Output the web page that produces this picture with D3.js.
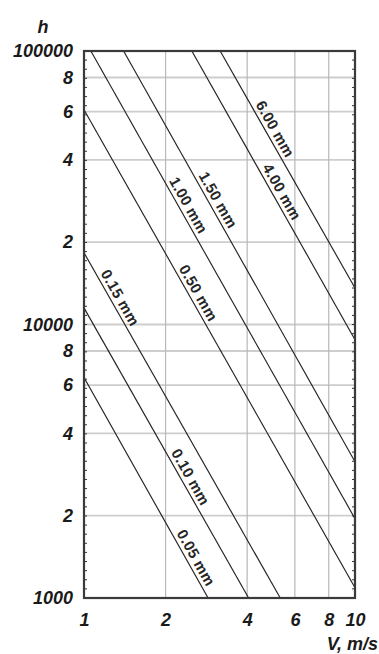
<!DOCTYPE html>
<html><head><meta charset="utf-8">
<script src="https://cdn.jsdelivr.net/npm/d3@7"></script>
<style>
body{margin:0;background:#fff;}
svg{display:block;}
text{font-family:"Liberation Sans",Arial,sans-serif;}
</style>
</head><body><svg id="c" width="379" height="654"></svg>
<script>
// ---- data ----
const seriesNames = ["0.05 mm","0.10 mm","0.15 mm","0.50 mm","1.00 mm","1.50 mm","4.00 mm","6.00 mm"];
const startV = [1, 1, 1, 1, 1.06, 1.40, 2.50, 3.18];
const startH = [6400, 11500, 18300, 61000, 100000, 100000, 100000, 100000];
const endV   = [2.87, 4.05, 5.30, 10, 10, 10, 10, 10];
const endH   = [1000, 1000, 1000, 1090, 1950, 3150, 8800, 13600];
const labelV = [2.42, 2.31, 1.27, 2.47, 2.27, 2.92, 5.02, 4.74];
const xTicks = [1, 2, 4, 6, 8, 10];
const xTickLabels = ["1","2","4","6","8","10"];
const yTicks = [1000, 2000, 4000, 6000, 8000, 10000, 20000, 40000, 60000, 80000, 100000];
const yTickLabels = ["1000","2","4","6","8","10000","2","4","6","8","100000"];
const xGrid = [2, 4, 6, 8];
const yGrid = [2000, 4000, 6000, 8000, 10000, 20000, 40000, 60000, 80000];
const xTitle = "V, m/s";
const yTitle = "h";

// ---- layout ----
const L = 84, R = 355, T = 51, B = 598;
const svg = d3.select("#c");
const x = d3.scaleLog().domain([1, 10]).range([L, R]);
const y = d3.scaleLog().domain([1000, 100000]).range([B, T]);

// grid
svg.append("g").selectAll("line").data(yGrid).join("line")
  .attr("x1", L).attr("x2", R).attr("y1", d => y(d)).attr("y2", d => y(d))
  .attr("stroke", "#cdcdcd").attr("stroke-width", 1.8);
svg.append("g").selectAll("line").data(xGrid).join("line")
  .attr("y1", T).attr("y2", B).attr("x1", d => x(d)).attr("x2", d => x(d))
  .attr("stroke", "#b8b8b8").attr("stroke-width", 1.2);

// series lines
const series = seriesNames.map((n, i) => ({
  name: n, pts: [[startV[i], startH[i]], [endV[i], endH[i]]], lab: labelV[i]
}));
const line = d3.line().x(d => x(d[0])).y(d => y(d[1]));
svg.append("g").selectAll("path").data(series).join("path")
  .attr("d", d => line(d.pts))
  .attr("fill", "none").attr("stroke", "#222").attr("stroke-width", 1.15);

// series labels
svg.append("g").selectAll("text").data(series).join("text")
  .attr("transform", d => {
    const [p0, p1] = d.pts;
    const x0 = x(p0[0]), y0 = y(p0[1]), x1 = x(p1[0]), y1 = y(p1[1]);
    const ang = Math.atan2(y1 - y0, x1 - x0) * 180 / Math.PI;
    const t = (Math.log(d.lab) - Math.log(p0[0])) / (Math.log(p1[0]) - Math.log(p0[0]));
    const lh = Math.exp(Math.log(p0[1]) + t * (Math.log(p1[1]) - Math.log(p0[1])));
    return `translate(${x(d.lab)},${y(lh)}) rotate(${ang})`;
  })
  .attr("dy", -4)
  .attr("text-anchor", "middle")
  .attr("font-size", 15).attr("font-weight", "bold").attr("letter-spacing", 0.3)
  .attr("fill", "#262626")
  .text(d => d.name);

// minor tick marks along left/right frame
const minor = d3.range(0, 61).map(k => 1000 * Math.pow(10, k / 30));
svg.append("g").selectAll("line").data(minor).join("line")
  .attr("x1", L).attr("x2", L + 3).attr("y1", d => y(d)).attr("y2", d => y(d))
  .attr("stroke", "#333").attr("stroke-width", 1);
svg.append("g").selectAll("line").data(minor).join("line")
  .attr("x1", R - 3).attr("x2", R).attr("y1", d => y(d)).attr("y2", d => y(d))
  .attr("stroke", "#333").attr("stroke-width", 1);

// frame
svg.append("rect").attr("x", L).attr("y", T).attr("width", R - L).attr("height", B - T)
  .attr("fill", "none").attr("stroke", "#3a3a3a").attr("stroke-width", 2.2);

// axes
const ax = svg.append("g").attr("transform", `translate(${L},0)`)
  .call(d3.axisLeft(y).tickValues(yTicks).tickFormat((d, i) => yTickLabels[i]).tickSize(0).tickPadding(11));
const bx = svg.append("g").attr("transform", `translate(0,${B})`)
  .call(d3.axisBottom(x).tickValues(xTicks).tickFormat((d, i) => xTickLabels[i]).tickSize(0).tickPadding(15));
[ax, bx].forEach(g => {
  g.select(".domain").remove();
  g.selectAll("text").attr("font-family", "'Liberation Sans',Arial,sans-serif")
    .attr("font-size", 18).attr("font-weight", "bold").attr("font-style", "italic").attr("fill", "#1a1a1a");
});

// titles
svg.append("text").attr("x", 43).attr("y", 33).attr("text-anchor", "middle")
  .attr("font-size", 18).attr("font-weight", "bold").attr("font-style", "italic").attr("fill", "#1a1a1a")
  .text(yTitle);
svg.append("text").attr("x", 378).attr("y", 650).attr("text-anchor", "end")
  .attr("font-size", 18).attr("font-weight", "bold").attr("font-style", "italic").attr("fill", "#1a1a1a")
  .text(xTitle);
</script>
</body></html>
